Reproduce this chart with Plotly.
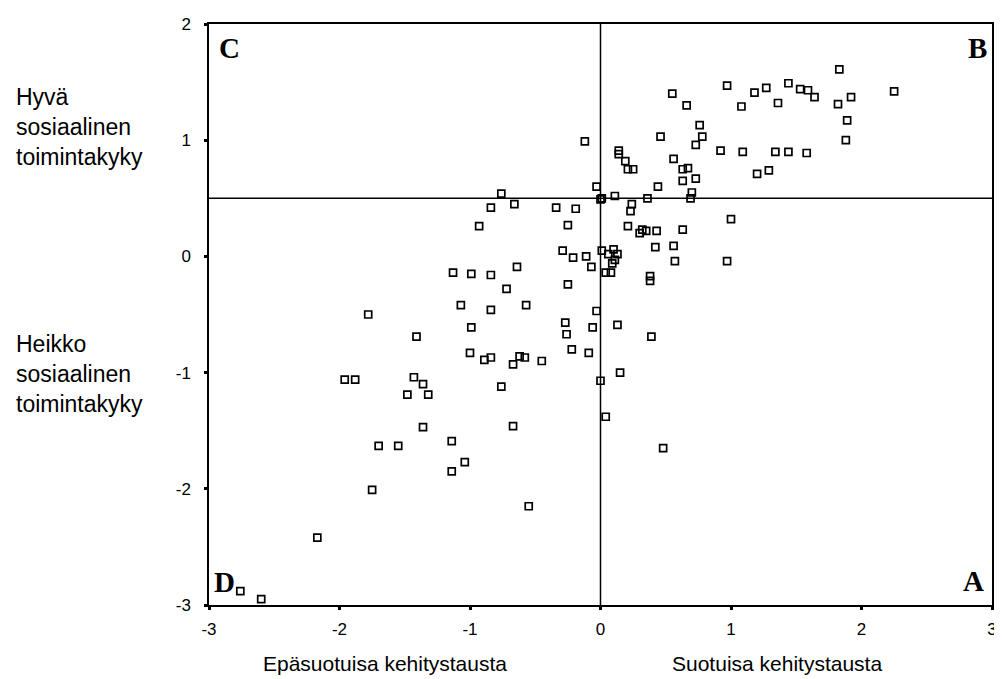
import plotly.graph_objects as go

# Scores: x = developmental background, y = social functioning
X_SCORES = [
    -0.12, -0.03, -0.76, 0.00, 0.01,
    1.83, 0.97, 1.44, 1.27, 1.18, 1.53, 1.59, 1.64, 2.25, 0.55, 0.66, 1.08, 1.36, 1.82, 1.92,
    1.89, 1.88, 0.76, 0.78, 0.46, 0.73, 0.14, 0.14, 0.19, 0.21, 0.25, 0.92, 1.09, 1.34, 1.44,
    1.58, 0.56, 0.63, 0.67, 0.63, 0.73, 1.20, 1.29, 0.44, 0.11, 0.36, 0.70, 0.69,
    -0.84, -0.66, -0.34, -0.19, -0.25, -0.93, 0.24, 0.23, 1.00, 0.21, 0.30, 0.32, 0.35, 0.43,
    0.63, 0.42, 0.56, 0.57, 0.97,
    -0.29, -0.21, -0.11, -0.07, 0.01, 0.06, 0.10, 0.13, 0.11, 0.09, 0.04, 0.08, 0.38, 0.38,
    -1.13, -0.99, -0.84, -0.64,
    -0.25, -0.72, -1.07, -0.84, -0.57, -0.03, -1.78, -0.27, -0.06, -0.99, 0.13, -0.26, -1.41,
    0.39, -0.22, -0.09, -1.00, -0.89, -0.84, -0.62, -0.58, -0.67, -0.45, 0.15, 0.00, -1.96,
    -1.88, -1.43, -1.36, -1.48, -1.32, -0.76, 0.04, -1.36, -0.67, -1.70, -1.55, -1.14, -1.04,
    -1.14, -1.75, -0.55, 0.48, -2.17, -2.76, -2.60,
]
Y_SCORES = [
    0.99, 0.60, 0.54, 0.49, 0.50,
    1.61, 1.47, 1.49, 1.45, 1.41, 1.44, 1.43, 1.37, 1.42, 1.40, 1.30, 1.29, 1.32, 1.31, 1.37,
    1.17, 1.00, 1.13, 1.03, 1.03, 0.96, 0.91, 0.88, 0.82, 0.75, 0.75, 0.91, 0.90, 0.90, 0.90,
    0.89, 0.84, 0.75, 0.76, 0.65, 0.67, 0.71, 0.74, 0.60, 0.52, 0.50, 0.55, 0.50,
    0.42, 0.45, 0.42, 0.41, 0.27, 0.26, 0.45, 0.39, 0.32, 0.26, 0.20, 0.23, 0.22, 0.22,
    0.23, 0.08, 0.09, -0.04, -0.04,
    0.05, -0.01, 0.00, -0.09, 0.05, 0.02, 0.06, 0.02, -0.03, -0.06, -0.14, -0.14, -0.17, -0.21,
    -0.14, -0.15, -0.16, -0.09,
    -0.24, -0.28, -0.42, -0.46, -0.42, -0.47, -0.50, -0.57, -0.61, -0.61, -0.59, -0.67, -0.69,
    -0.69, -0.80, -0.83, -0.83, -0.89, -0.87, -0.86, -0.87, -0.93, -0.90, -1.00, -1.07, -1.06,
    -1.06, -1.04, -1.10, -1.19, -1.19, -1.12, -1.38, -1.47, -1.46, -1.63, -1.63, -1.59, -1.77,
    -1.85, -2.01, -2.15, -1.65, -2.42, -2.88, -2.95,
]

X_TICKS = [-3, -2, -1, 0, 1, 2, 3]
Y_TICKS = [-3, -2, -1, 0, 1, 2]
X_SPLIT = 0
Y_SPLIT = 0.5

fig = go.Figure()
fig.add_trace(go.Scatter(
    x=X_SCORES, y=Y_SCORES, mode="markers",
    marker=dict(symbol="square-open", size=7, color="black", line=dict(width=1.7, color="black")),
    showlegend=False, hoverinfo="x+y",
))

fig.add_shape(type="line", xref="x", yref="y", x0=X_SPLIT, x1=X_SPLIT, y0=-3, y1=2,
              line=dict(color="black", width=1.5))
fig.add_shape(type="line", xref="x", yref="y", x0=-3, x1=3, y0=Y_SPLIT, y1=Y_SPLIT,
              line=dict(color="black", width=1.5))

sans = "Liberation Sans, Arial, Helvetica, sans-serif"
serif = "Liberation Serif, Times New Roman, serif"

ann = []
for txt, xp, yp in [("C", 0.0266, 0.9587), ("B", 0.981, 0.9587), ("D", 0.0203, 0.0396), ("A", 0.977, 0.0413)]:
    ann.append(dict(text=f"<b>{txt}</b>", xref="paper", yref="paper", x=xp, y=yp,
                    xanchor="center", yanchor="middle", showarrow=False,
                    font=dict(family=serif, size=29, color="black")))

ann.append(dict(text="Hyvä<br>sosiaalinen<br>toimintakyky", xref="paper", yref="paper",
                x=-0.2487, y=0.8227, xanchor="left", yanchor="middle", align="left",
                showarrow=False, font=dict(family=sans, size=23, color="black")))
ann.append(dict(text="Heikko<br>sosiaalinen<br>toimintakyky", xref="paper", yref="paper",
                x=-0.2487, y=0.3976, xanchor="left", yanchor="middle", align="left",
                showarrow=False, font=dict(family=sans, size=23, color="black")))
ann.append(dict(text="Epäsuotuisa kehitystausta", xref="x", yref="paper", x=-1.655, y=-0.101,
                xanchor="center", yanchor="middle", showarrow=False,
                font=dict(family=sans, size=21, color="black")))
ann.append(dict(text="Suotuisa kehitystausta", xref="x", yref="paper", x=1.35, y=-0.101,
                xanchor="center", yanchor="middle", showarrow=False,
                font=dict(family=sans, size=21, color="black")))

axis_common = dict(showgrid=False, zeroline=False, showline=True, linecolor="black", linewidth=1.5,
                   mirror=True, ticks="outside", ticklen=3, tickwidth=3, tickcolor="black",
                   tickfont=dict(family=sans, size=17, color="black"))

# The page body adds an 8px offset, so the figure is sized to fit the 1002x679 window.
fig.update_layout(
    width=994, height=671,
    margin=dict(l=201, r=5, t=16, b=74),
    paper_bgcolor="white", plot_bgcolor="white",
    xaxis=dict(range=[-3, 3], tickvals=X_TICKS, ticktext=[str(v) for v in X_TICKS],
               ticklabelstandoff=5, **axis_common),
    yaxis=dict(range=[-3, 2], tickvals=Y_TICKS, ticktext=[str(v) for v in Y_TICKS],
               ticklabelstandoff=10, **axis_common),
    annotations=ann,
)

fig.write_html("out.html")
